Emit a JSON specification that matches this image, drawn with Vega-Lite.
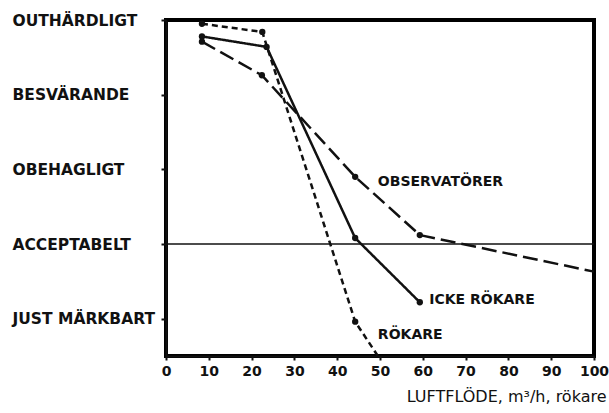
{
  "$schema": "https://vega.github.io/schema/vega-lite/v6.json",
  "autosize": {"type": "none"},
  "width": 428,
  "height": 336,
  "padding": {"left": 166, "top": 20, "right": 15, "bottom": 57},
  "background": "#ffffff",
  "view": {"stroke": "black", "strokeWidth": 4},
  "config": {
    "font": "DejaVu Sans",
    "axis": {"grid": false, "domainColor": "#111", "domainWidth": 2, "tickColor": "#111", "tickWidth": 2, "labelColor": "#111", "titleColor": "#111", "labelFont": "DejaVu Sans", "titleFont": "DejaVu Sans", "labelFontWeight": "bold", "labelFontSize": 15.5}
  },
  "datasets": {
    "curves": [
      {"series": "RÖKARE", "x": 8.4, "y": 4.95},
      {"series": "RÖKARE", "x": 22.5, "y": 4.84},
      {"series": "RÖKARE", "x": 44.2, "y": 0.96},
      {"series": "RÖKARE", "x": 49.5, "y": 0.5},
      {"series": "ICKE RÖKARE", "x": 8.4, "y": 4.78},
      {"series": "ICKE RÖKARE", "x": 23.5, "y": 4.64},
      {"series": "ICKE RÖKARE", "x": 44.2, "y": 2.08},
      {"series": "ICKE RÖKARE", "x": 59.3, "y": 1.22},
      {"series": "OBSERVATÖRER", "x": 8.4, "y": 4.71},
      {"series": "OBSERVATÖRER", "x": 22.4, "y": 4.26},
      {"series": "OBSERVATÖRER", "x": 44.2, "y": 2.9},
      {"series": "OBSERVATÖRER", "x": 59.3, "y": 2.12},
      {"series": "OBSERVATÖRER", "x": 100, "y": 1.63}
    ],
    "labels": [
      {"text": "OBSERVATÖRER", "x": 49.5, "y": 2.83},
      {"text": "ICKE RÖKARE", "x": 61.5, "y": 1.25},
      {"text": "RÖKARE", "x": 49.5, "y": 0.78}
    ],
    "frame": [
      {"x": 0, "x2": 100, "y": 2, "y2": 2}
    ]
  },
  "layer": [
    {
      "data": {"name": "frame"},
      "mark": {"type": "rule", "strokeWidth": 1.5, "color": "#111"},
      "encoding": {
        "x": {"field": "x", "type": "quantitative"},
        "x2": {"field": "x2"},
        "y": {"field": "y", "type": "quantitative"},
        "y2": {"field": "y2"}
      }
    },
    {
      "data": {"name": "curves"},
      "mark": {"type": "line", "color": "#111", "strokeWidth": 2.5},
      "encoding": {
        "x": {"field": "x", "type": "quantitative", "scale": {"domain": [0, 100], "nice": false},
              "axis": {"values": [0,10,20,30,40,50,60,70,80,90,100], "tickSize": 4, "labelPadding": 4, "labelFontSize": 14, "labelFontWeight": "bold", "labelFlush": false,
                       "title": "LUFTFLÖDE, m³/h, rökare", "titleAnchor": "end", "titleAlign": "right", "titleX": 440, "titleFontSize": 16, "titleFontWeight": "normal", "titlePadding": 10}},
        "y": {"field": "y", "type": "quantitative", "scale": {"domain": [0.5, 5], "nice": false, "zero": false},
              "axis": {"values": [1,2,3,4,5], "tickSize": 5, "labelAlign": "left", "labelPadding": 149, "title": null, "labelFlush": false,
                       "labelExpr": "datum.value == 5 ? 'OUTHÄRDLIGT' : datum.value == 4 ? 'BESVÄRANDE' : datum.value == 3 ? 'OBEHAGLIGT' : datum.value == 2 ? 'ACCEPTABELT' : 'JUST MÄRKBART'"}},
        "detail": {"field": "series"},
        "strokeDash": {"field": "series", "type": "nominal", "legend": null,
                       "scale": {"domain": ["RÖKARE", "ICKE RÖKARE", "OBSERVATÖRER"], "range": [[6, 4], [1, 0], [15, 6]]}}
      }
    },
    {
      "data": {"name": "curves"},
      "transform": [{"filter": "!(datum.series == 'RÖKARE' && datum.x > 48) && datum.x < 99"}],
      "mark": {"type": "point", "filled": true, "color": "#111", "size": 40, "opacity": 1},
      "encoding": {
        "x": {"field": "x", "type": "quantitative"},
        "y": {"field": "y", "type": "quantitative"}
      }
    },
    {
      "data": {"name": "labels"},
      "mark": {"type": "text", "align": "left", "baseline": "middle", "color": "#111", "fontSize": 14, "fontWeight": "bold", "font": "DejaVu Sans"},
      "encoding": {
        "x": {"field": "x", "type": "quantitative"},
        "y": {"field": "y", "type": "quantitative"},
        "text": {"field": "text"}
      }
    }
  ]
}
